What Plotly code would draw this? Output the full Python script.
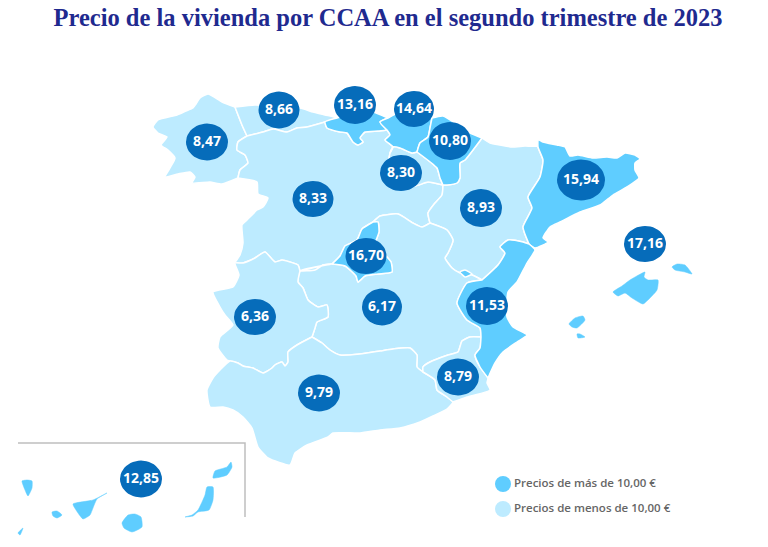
import math
import plotly.graph_objects as go

TITLE = "Precio de la vivienda por CCAA en el segundo trimestre de 2023"
LEGEND_LABELS = ["Precios de más de 10,00 €", "Precios de menos de 10,00 €"]
LIGHT = "#BDEBFF"
DARK = "#5FCDFF"
BUBBLE = "#066CBA"

gal_ast = [(235,107),(242,125),(247,136)]
gal_cyl = [(247,136),(238,142),(237,150),(245,155),(248,163),(240,170),(238,178)]
ast_cyl = [(247,136),(263,132),(273,129),(287,132),(297,128),(307,127),(325,122)]
can_cyl = [(325,122),(327,128),(340,132),(347,133),(353,142),(358,145),(363,142),(360,138),(365,132),(378,131),(387,130)]
pv_cyl = [(387,130),(390,135),(385,140),(393,147),(390,153)]
rio_cyl = [(390,153),(388,170),(400,180),(415,186),(428,182),(443,185)]
ara_cyl = [(443,185),(442,195),(435,203),(428,213),(430,223)]
clm_cyl = [(430,223),(422,227),(413,223),(398,214),(380,216),(373,222)]
mad_cyl = [(373,222),(362,229),(357,240),(345,246),(340,256),(332,264)]
clm_cyl2 = [(332,264),(323,265),(315,270),(300,271)]
ext_cyl = [(300,271),(298,265),(290,262),(282,260),(275,262),(265,252),(255,258),(243,263),(235,263)]
ext_clm = [(300,271),(298,282),(303,288),(308,300),(318,307),(327,305),(328,317),(317,322),(315,328),(312,337)]
ext_and = [(312,337),(297,345),(288,352),(288,362),(285,366),(282,362),(275,365),(272,368),(263,373),(253,368),(243,366),(238,363),(230,361)]
and_clm = [(312,337),(322,343),(330,350),(340,355),(360,354),(380,351),(393,349),(410,348),(417,355),(417,367),(423,372)]
clm_mur = [(423,372),(423,367),(430,362),(448,355),(458,352),(462,341),(470,337),(481,337)]
and_mur = [(423,372),(435,380),(437,390),(447,397),(453,402)]
mur_val = [(481,337),(480,348),(475,355),(480,367),(488,378)]
clm_val = [(481,337),(480,328),(467,320),(457,303),(467,283),(482,280)]
ara_val = [(482,280),(498,265),(505,253),(500,247),(508,240),(523,242),(529,244)]
ara_cat = [(529,244),(523,227),(532,208),(528,197),(540,177),(543,160),(538,147),(538,139)]
ara_clm = [(430,223),(447,230),(453,240),(448,253),(445,258),(452,268),(460,273),(472,275),(482,280)]
pv_can = [(387,130),(380,122),(388,118)]
pv_nav = [(432,118),(430,128),(428,137),(420,143),(417,152)]
pv_rio = [(417,152),(412,153),(400,148),(393,147),(390,153)]
nav_rio = [(417,152),(437,168),(440,178),(443,185)]
nav_ara = [(443,185),(447,185),(457,183),(460,178),(460,163),(465,160),(482,138)]
mad_clm = [(373,222),(378,222),(379,232),(375,245),(385,255),(391,262),(392,272),(378,274),(365,276),(358,282),(356,276),(345,266),(332,264)]


def rev(seg):
    return seg[::-1]


# Region outlines: coast pieces plus the shared borders above
galicia = [(235,107),(222,102),(208,94),(200,98),(196,104),(193,108),(186,111),(177,115),(158,120),(153,127),(158,133),(167,137),(161,145),(168,150),(175,158),(170,168),(165,177),(178,174),(190,172),(195,177),(192,183),(210,182),(222,184),(238,178)] + rev(gal_cyl) + rev(gal_ast)
asturias = [(235,107),(255,105),(275,106),(300,108),(313,112),(325,115),(337,118),(325,122)] + rev(ast_cyl) + rev(gal_ast)
cantabria = [(337,118),(360,112),(373,112),(388,118)] + rev(pv_can) + rev(can_cyl)
pais_vasco = [(388,118),(400,112),(420,115),(432,118)] + pv_nav + pv_rio + rev(pv_cyl) + pv_can
navarra = [(432,118),(443,116),(470,133),(482,138)] + rev(nav_ara) + rev(nav_rio) + rev(pv_nav)
la_rioja = pv_rio[::-1] + nav_rio + rev(rio_cyl)
castilla_leon = ast_cyl + can_cyl + pv_cyl + rio_cyl + ara_cyl + clm_cyl + mad_cyl + clm_cyl2 + ext_cyl + [(240,255),(243,243),(242,225),(247,220),(257,210),(263,207),(268,198),(258,194),(257,182),(238,178)] + rev(gal_cyl)
aragon = [(482,138),(490,143),(500,145),(512,147),(525,146),(538,146)] + rev(ara_cat) + rev(ara_val) + rev(ara_clm) + rev(ara_cyl) + nav_ara
cataluna = [(538,139),(543,142),(557,145),(565,147),(570,156),(578,155),(593,158),(607,157),(617,158),(625,153),(635,155),(640,159),(635,163),(635,170),(639,178),(627,187),(613,195),(600,205),(580,212),(560,222),(550,227),(543,238),(548,242),(535,248),(529,244)] + ara_cat
valencia = [(529,244),(535,250),(527,263),(517,282),(508,292),(507,317),(513,327),(527,335),(517,342),(503,352),(495,363),(488,378)] + rev(mur_val) + clm_val + ara_val
ademuz = [(460,272),(465,270),(472,274),(465,277)]
murcia = mur_val + [(487,383),(490,390),(467,397),(453,402)] + rev(and_mur) + clm_mur
madrid = mad_clm + rev(mad_cyl)
castilla_mancha = clm_cyl2 + rev(mad_clm) + rev(clm_cyl) + ara_clm + rev(clm_val) + rev(clm_mur) + rev(and_clm) + rev(ext_clm)
extremadura = rev(ext_cyl) + ext_clm + ext_and + [(227,360),(218,348),(220,337),(233,325),(225,315),(220,307),(213,292),(233,287),(239,275)]
andalucia = rev(ext_and) + and_clm + and_mur + [(447,409),(433,416),(420,422),(400,428),(380,430),(360,433),(333,433),(328,437),(307,445),(295,453),(290,465),(268,458),(258,447),(252,428),(243,417),(233,410),(223,407),(210,407),(207,390),(213,378),(220,370)]
mallorca = [(613,292),(622,286),(630,280),(645,272),(644,277),(648,280),(658,280),(657,290),(650,298),(643,304),(632,298),(625,293),(618,296)]
menorca = [(672,267),(677,264),(685,265),(692,274),(685,272),(675,270)]
ibiza = [(569,324),(575,318),(583,316),(585,320),(577,328),(572,327)]
formentera = [(577,334),(580,334),(585,337),(578,338)]
el_hierro = [(18,533),(23,528),(20,535)]
la_palma = [(22,481),(27,480),(32,481),(32,488),(28,496),(25,490)]
la_gomera = [(52,512),(57,511),(62,515),(57,518),(53,516)]
tenerife = [(73,504),(93,500),(107,493),(97,499),(93,508),(90,515),(83,519),(78,513)]
gran_canaria = [(122,523),(128,515),(135,514),(141,517),(142,527),(132,532),(124,528)]
fuerteventura = [(185,517),(192,515),(198,510),(205,495),(207,487),(213,487),(213,500),(209,510),(198,512),(193,516)]
lanzarote = [(213,478),(215,471),(227,467),(231,462),(232,467),(227,475)]

light_regions = [galicia, asturias, castilla_leon, la_rioja, aragon, castilla_mancha, extremadura, andalucia, murcia]
dark_regions = [cantabria, pais_vasco, navarra, cataluna, valencia, ademuz, madrid]
dark_islands = [mallorca, menorca, ibiza, formentera, el_hierro, la_palma, la_gomera, tenerife, gran_canaria, fuerteventura, lanzarote]

# Price per region and the bubble that carries it
prices = [8.47, 8.66, 13.16, 14.64, 10.80, 8.30, 8.33, 8.93, 15.94, 17.16, 16.70, 6.36, 6.17, 11.53, 8.79, 9.79, 12.85]
bubble_x = [207, 279, 355, 414, 450, 401, 313, 481, 581, 645, 366, 255, 382, 487, 458, 319, 141]
bubble_y = [142, 110, 105, 109, 141, 173, 199, 208, 180, 244, 256, 317, 307, 306, 377, 393, 479]
bubble_rx = [21, 20.5, 21, 20, 21, 21, 20.5, 21, 24, 21, 20.5, 21, 20, 21, 21, 21, 21]
bubble_ry = [18.5, 18.5, 19, 18, 19, 18, 18, 19, 20.5, 18, 18, 18, 18.5, 19, 18.5, 18.5, 18.5]
inset_x = [18, 245, 245]
inset_y = [443, 443, 517]
legend_x = [503, 503]
legend_y = [484, 509]


def poly_trace(points, fill, line_w=1.5):
    xs = [p[0] for p in points] + [points[0][0]]
    ys = [p[1] for p in points] + [points[0][1]]
    return go.Scatter(x=xs, y=ys, mode="lines", fill="toself", fillcolor=fill,
                      line=dict(color="white" if line_w else fill, width=line_w or 0.5, shape="spline", smoothing=0.5),
                      hoverinfo="skip", showlegend=False)


fig = go.Figure()
for r in light_regions:
    fig.add_trace(poly_trace(r, LIGHT))
for r in dark_regions:
    fig.add_trace(poly_trace(r, DARK))
for r in dark_islands:
    fig.add_trace(poly_trace(r, DARK, 0))

fig.add_trace(go.Scatter(x=inset_x, y=inset_y, mode="lines",
                         line=dict(color="#BEBEBE", width=1.5),
                         hoverinfo="skip", showlegend=False))

ex, ey = [], []
for cx, cy, rx, ry in zip(bubble_x, bubble_y, bubble_rx, bubble_ry):
    for i in range(49):
        a = 2 * math.pi * i / 48
        ex.append(cx + rx * math.cos(a))
        ey.append(cy + ry * math.sin(a))
    ex.append(None)
    ey.append(None)
fig.add_trace(go.Scatter(x=ex, y=ey, mode="lines", fill="toself", fillcolor=BUBBLE,
                         line=dict(color=BUBBLE, width=0), hoverinfo="skip", showlegend=False))

fig.add_trace(go.Scatter(x=bubble_x, y=bubble_y, mode="text",
                         text=[f"{v:.2f}".replace(".", ",") for v in prices],
                         textposition="middle center",
                         textfont=dict(family="Open Sans", size=14, color="white", weight="bold"),
                         hoverinfo="skip", showlegend=False))

fig.add_trace(go.Scatter(x=legend_x, y=legend_y, mode="markers+text",
                         marker=dict(size=16, color=[DARK, LIGHT]),
                         text=LEGEND_LABELS, textposition="middle right",
                         textfont=dict(family="Open Sans", size=11.5, color="#666666", weight=600),
                         hoverinfo="skip", showlegend=False))

fig.update_layout(
    width=768, height=547,
    margin=dict(l=0, r=0, t=0, b=0),
    paper_bgcolor="white", plot_bgcolor="white",
    showlegend=False,
    xaxis=dict(range=[0, 768], visible=False, fixedrange=True),
    yaxis=dict(range=[547, 0], visible=False, fixedrange=True),
    title=dict(text=TITLE, x=388 / 768, xanchor="center", y=1 - 17 / 547, yanchor="middle",
               font=dict(family="Liberation Serif", size=24.5, color="#1F2A8F", weight="bold")),
)

fig.write_html("out.html", config={"displayModeBar": False},
               post_script="document.body.style.margin='0';document.body.style.overflow='hidden';")
